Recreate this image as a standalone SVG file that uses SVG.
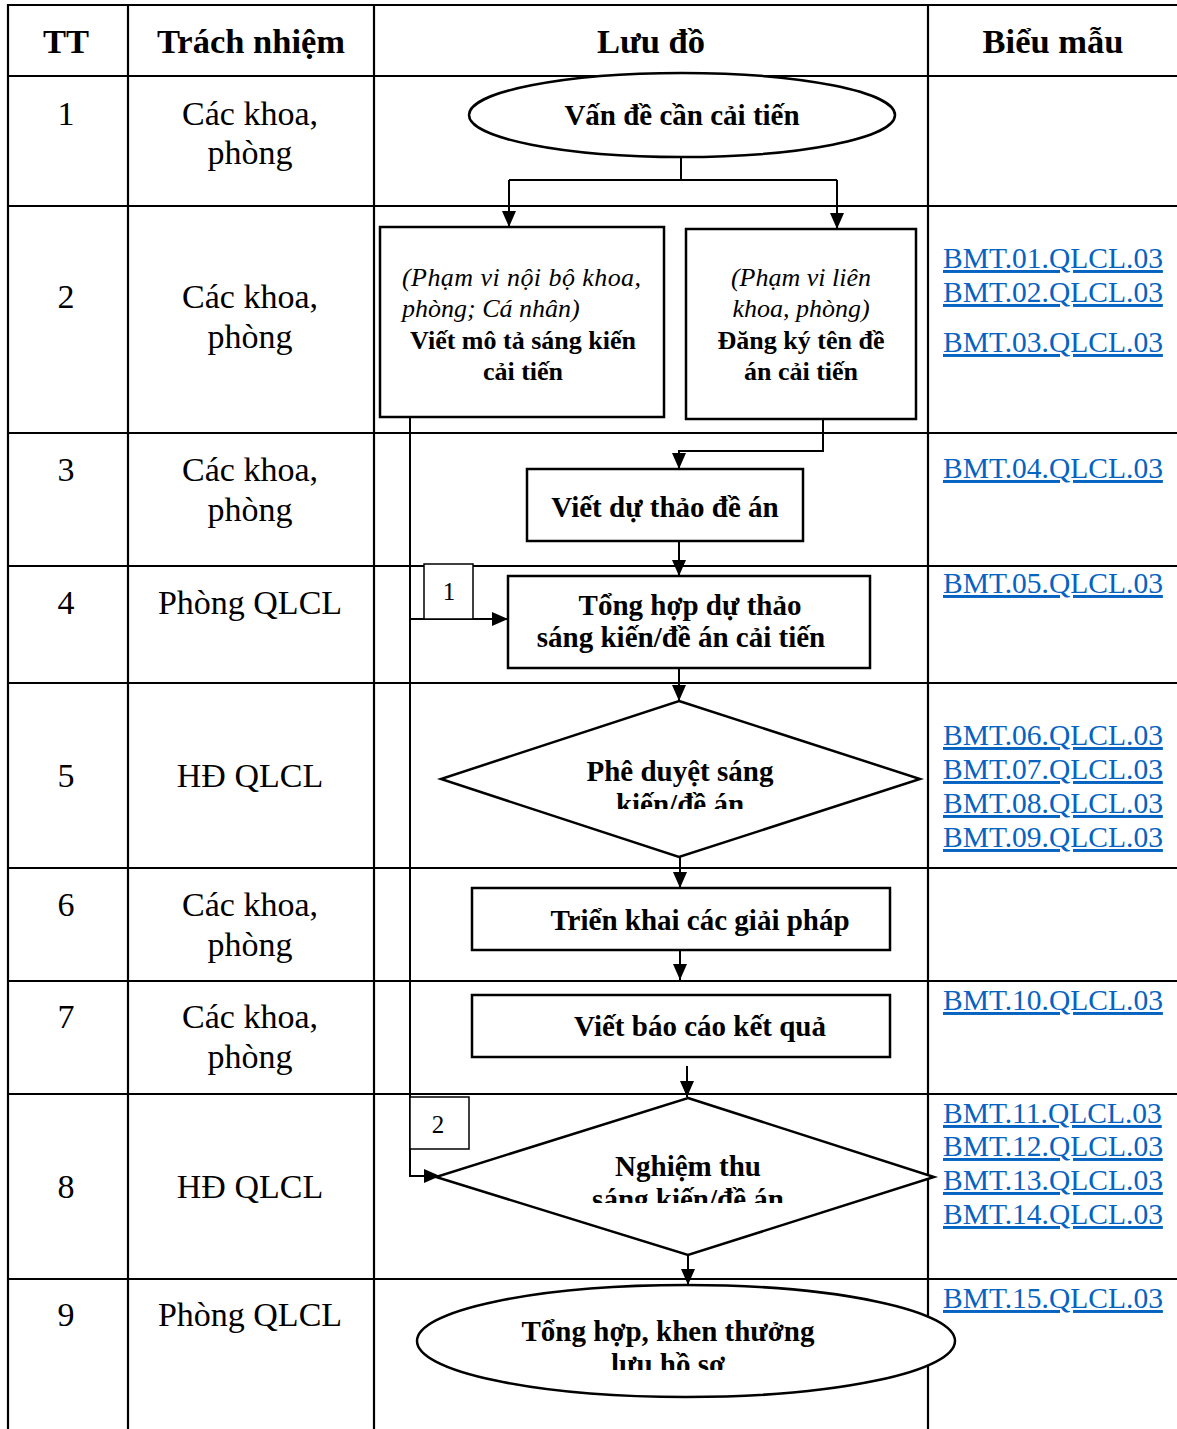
<svg xmlns="http://www.w3.org/2000/svg" width="1177" height="1429" viewBox="0 0 1177 1429">
<style>
.grid{stroke:#000;stroke-width:2.2;fill:none}
.hd{font-family:"Liberation Serif","Times New Roman",serif;font-weight:bold;font-size:34.5px;text-anchor:middle;fill:#000}
.bd{font-family:"Liberation Serif","Times New Roman",serif;font-size:34px;text-anchor:middle;fill:#000}
.lk{font-family:"Liberation Serif","Times New Roman",serif;font-size:29.5px;fill:#0563C1;text-decoration:underline}
.sh{fill:#fff;stroke:#000;stroke-width:2.5}
.ft{font-family:"Liberation Serif","Times New Roman",serif;font-weight:bold;font-size:29px;text-anchor:middle;fill:#000}
.fs{font-family:"Liberation Serif","Times New Roman",serif;font-weight:bold;font-size:26px;text-anchor:middle;fill:#000}
.fi{font-family:"Liberation Serif","Times New Roman",serif;font-style:italic;font-size:26px;fill:#000}
.lb{font-family:"Liberation Serif","Times New Roman",serif;font-size:25px;text-anchor:middle;fill:#000}
.cn{stroke:#000;stroke-width:2;fill:none}
.lbox{fill:#fff;stroke:#000;stroke-width:1.5}
</style>
<defs>
<marker id="ah" markerUnits="userSpaceOnUse" markerWidth="16" markerHeight="14" viewBox="0 0 16 14" refX="16" refY="7" orient="auto">
<path d="M0,0 L16,7 L0,14 Z" fill="#000"/>
</marker>
<clipPath id="c1"><rect x="440" y="700" width="480" height="109"/></clipPath>
<clipPath id="c2"><rect x="436" y="1098" width="500" height="105"/></clipPath>
<clipPath id="c3"><rect x="417" y="1285" width="540" height="85"/></clipPath>
</defs>

<g id="table">
<line class="grid" x1="8" y1="5" x2="1177" y2="5"/>
<line class="grid" x1="8" y1="76" x2="1177" y2="76"/>
<line class="grid" x1="8" y1="206" x2="1177" y2="206"/>
<line class="grid" x1="8" y1="433" x2="1177" y2="433"/>
<line class="grid" x1="8" y1="566" x2="1177" y2="566"/>
<line class="grid" x1="8" y1="683" x2="1177" y2="683"/>
<line class="grid" x1="8" y1="868" x2="1177" y2="868"/>
<line class="grid" x1="8" y1="981" x2="1177" y2="981"/>
<line class="grid" x1="8" y1="1094" x2="1177" y2="1094"/>
<line class="grid" x1="8" y1="1279" x2="1177" y2="1279"/>
<line class="grid" x1="8" y1="4" x2="8" y2="1429"/>
<line class="grid" x1="128" y1="4" x2="128" y2="1429"/>
<line class="grid" x1="374" y1="4" x2="374" y2="1429"/>
<line class="grid" x1="928" y1="4" x2="928" y2="1429"/>
<text class="hd" x="66" y="53">TT</text>
<text class="hd" x="251" y="53">Trách nhiệm</text>
<text class="hd" x="651" y="53">Lưu đồ</text>
<text class="hd" x="1053" y="53">Biểu mẫu</text>
</g>

<g id="col-tt">
<text class="bd" x="66" y="125">1</text>
<text class="bd" x="66" y="308">2</text>
<text class="bd" x="66" y="481">3</text>
<text class="bd" x="66" y="614">4</text>
<text class="bd" x="66" y="787">5</text>
<text class="bd" x="66" y="916">6</text>
<text class="bd" x="66" y="1028">7</text>
<text class="bd" x="66" y="1198">8</text>
<text class="bd" x="66" y="1326">9</text>
</g>

<g id="col-resp">
<text class="bd" x="250" y="125">Các khoa,</text>
<text class="bd" x="250" y="164">phòng</text>
<text class="bd" x="250" y="308">Các khoa,</text>
<text class="bd" x="250" y="348">phòng</text>
<text class="bd" x="250" y="481">Các khoa,</text>
<text class="bd" x="250" y="521">phòng</text>
<text class="bd" x="250" y="614">Phòng QLCL</text>
<text class="bd" x="250" y="787">HĐ QLCL</text>
<text class="bd" x="250" y="916">Các khoa,</text>
<text class="bd" x="250" y="956">phòng</text>
<text class="bd" x="250" y="1028">Các khoa,</text>
<text class="bd" x="250" y="1068">phòng</text>
<text class="bd" x="250" y="1198">HĐ QLCL</text>
<text class="bd" x="250" y="1326">Phòng QLCL</text>
</g>

<g id="col-forms">
<text class="lk" x="943" y="268">BMT.01.QLCL.03</text>
<text class="lk" x="943" y="302">BMT.02.QLCL.03</text>
<text class="lk" x="943" y="352">BMT.03.QLCL.03</text>
<text class="lk" x="943" y="478">BMT.04.QLCL.03</text>
<text class="lk" x="943" y="593">BMT.05.QLCL.03</text>
<text class="lk" x="943" y="745">BMT.06.QLCL.03</text>
<text class="lk" x="943" y="779">BMT.07.QLCL.03</text>
<text class="lk" x="943" y="813">BMT.08.QLCL.03</text>
<text class="lk" x="943" y="847">BMT.09.QLCL.03</text>
<text class="lk" x="943" y="1010">BMT.10.QLCL.03</text>
<text class="lk" x="943" y="1123">BMT.11.QLCL.03</text>
<text class="lk" x="943" y="1156">BMT.12.QLCL.03</text>
<text class="lk" x="943" y="1190">BMT.13.QLCL.03</text>
<text class="lk" x="943" y="1224">BMT.14.QLCL.03</text>
<text class="lk" x="943" y="1308">BMT.15.QLCL.03</text>
</g>

<g id="connectors">
<polyline class="cn" points="681,157 681,180"/>
<polyline class="cn" points="509,180 837,180"/>
<polyline class="cn" points="509,180 509,227" marker-end="url(#ah)"/>
<polyline class="cn" points="837,180 837,229" marker-end="url(#ah)"/>
<polyline class="cn" points="823,419 823,451 679,451 679,469" marker-end="url(#ah)"/>
<polyline class="cn" points="679,541 679,576" marker-end="url(#ah)"/>
<polyline class="cn" points="410,417 410,1176 440,1176" marker-end="url(#ah)"/>
<polyline class="cn" points="410,619 508,619" marker-end="url(#ah)"/>
<polyline class="cn" points="679,668 679,701" marker-end="url(#ah)"/>
<polyline class="cn" points="680,857 680,888" marker-end="url(#ah)"/>
<polyline class="cn" points="680,950 680,980" marker-end="url(#ah)"/>
<polyline class="cn" points="687,1066 687,1097" marker-end="url(#ah)"/>
<polyline class="cn" points="688,1255 688,1285" marker-end="url(#ah)"/>
</g>

<g id="n1">
<ellipse class="sh" cx="682" cy="115" rx="213" ry="42"/>
<text class="ft" x="682" y="125">Vấn đề cần cải tiến</text>
</g>

<g id="n2a">
<rect class="sh" x="380" y="227" width="284" height="190"/>
<text class="fi" x="402" y="286" textLength="239" lengthAdjust="spacing">(Phạm vi nội bộ khoa,</text>
<text class="fi" x="402" y="317">phòng; Cá nhân)</text>
<text class="fs" x="523" y="349">Viết mô tả sáng kiến</text>
<text class="fs" x="523" y="380">cải tiến</text>
</g>

<g id="n2b">
<rect class="sh" x="686" y="229" width="230" height="190"/>
<text class="fi" x="801" y="286" text-anchor="middle">(Phạm vi liên</text>
<text class="fi" x="801" y="317" text-anchor="middle">khoa, phòng)</text>
<text class="fs" x="801" y="349">Đăng ký tên đề</text>
<text class="fs" x="801" y="380">án cải tiến</text>
</g>

<g id="n3">
<rect class="sh" x="527" y="469" width="276" height="72"/>
<text class="ft" x="665" y="517">Viết dự thảo đề án</text>
</g>

<g id="label1">
<rect class="lbox" x="424" y="564" width="49" height="55"/>
<text class="lb" x="449" y="600">1</text>
</g>

<g id="n4">
<rect class="sh" x="508" y="576" width="362" height="92"/>
<text class="ft" x="690" y="615">Tổng hợp dự thảo</text>
<text class="ft" x="681" y="647">sáng kiến/đề án cải tiến</text>
</g>

<g id="n5">
<polygon class="sh" points="679,701 920,779 679,857 441,779"/>
<text class="ft" x="680" y="781">Phê duyệt sáng</text>
<text class="ft" x="680" y="814" clip-path="url(#c1)">kiến/đề án</text>
</g>

<g id="n6">
<rect class="sh" x="472" y="888" width="418" height="62"/>
<text class="ft" x="700" y="930">Triển khai các giải pháp</text>
</g>

<g id="n7">
<rect class="sh" x="472" y="995" width="418" height="62"/>
<text class="ft" x="700" y="1036">Viết báo cáo kết quả</text>
</g>

<g id="label2">
<rect class="lbox" x="410" y="1097" width="59" height="52"/>
<text class="lb" x="438" y="1133">2</text>
</g>

<g id="n8">
<polygon class="sh" points="688,1098 934,1177 688,1255 436,1177"/>
<text class="ft" x="688" y="1176">Nghiệm thu</text>
<text class="ft" x="688" y="1209" clip-path="url(#c2)">sáng kiến/đề án</text>
</g>

<g id="n9">
<ellipse class="sh" cx="686" cy="1341" rx="269" ry="56"/>
<text class="ft" x="668" y="1341">Tổng hợp, khen thưởng</text>
<text class="ft" x="668" y="1374" clip-path="url(#c3)">lưu hồ sơ</text>
</g>
</svg>
